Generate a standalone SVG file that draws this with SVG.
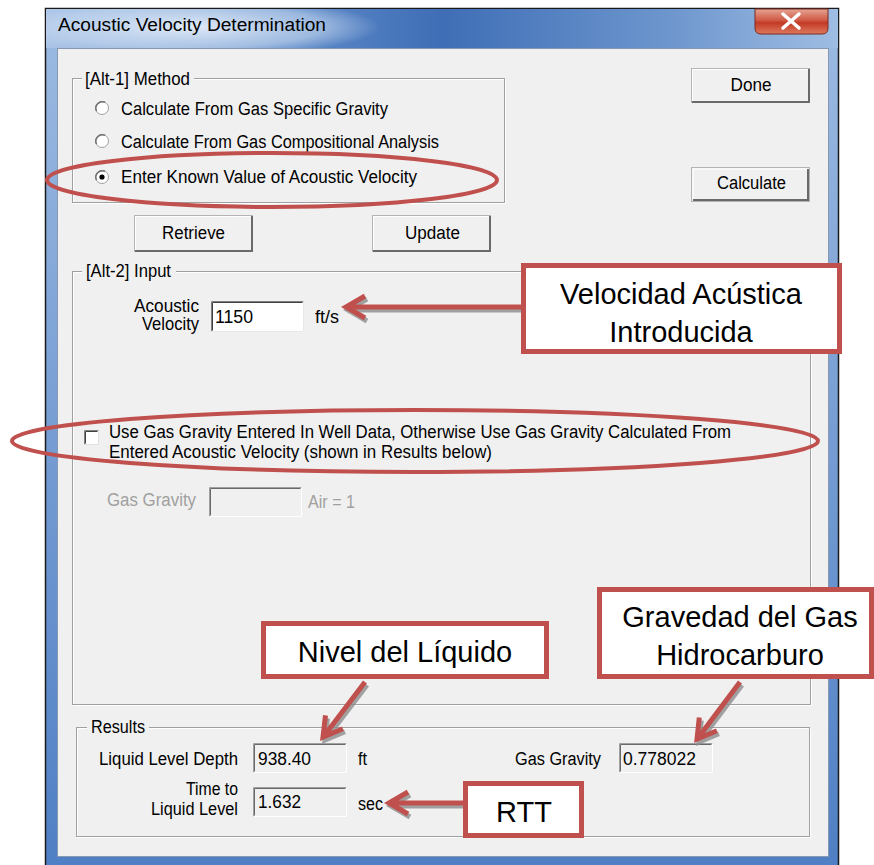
<svg xmlns="http://www.w3.org/2000/svg" width="874" height="865" viewBox="0 0 874 865">
<style>
.ui{font-family:"Liberation Sans",Arial,sans-serif;font-size:18px;fill:#000}
.dis{fill:#a0a0a0}
.co{font-family:"Liberation Sans",Arial,sans-serif;font-size:29px;fill:#000;text-anchor:middle}
.grp{fill:none;stroke:#a0a0a0;stroke-width:1}
.grpw{fill:none;stroke:#ffffff;stroke-width:1}
.btn{fill:#f0f0f0;stroke:#b4b4b4;stroke-width:1}
.bsh{fill:none;stroke:#6a6a6a;stroke-width:2}
.bhi{fill:none;stroke:#ffffff;stroke-width:1}
.hl{fill:none;stroke:#c0504d;stroke-width:4}
.cbox{fill:#ffffff;stroke:#c0504d;stroke-width:5}
.arr{fill:none;stroke:#c0504d;stroke-width:5;stroke-linejoin:miter}
.arrs{fill:none;stroke:#8c8c8c;stroke-width:5;stroke-linejoin:miter;opacity:0.8}
</style>
<defs>
<linearGradient id="tb" x1="0" y1="0" x2="1" y2="0">
<stop offset="0" stop-color="#a9c3e6"/>
<stop offset="0.3" stop-color="#5f8bc9"/>
<stop offset="0.5" stop-color="#3f6eb6"/>
<stop offset="0.78" stop-color="#6c95cd"/>
<stop offset="1" stop-color="#9fbde3"/>
</linearGradient>
<radialGradient id="glow" cx="0.5" cy="0.5" r="0.5">
<stop offset="0" stop-color="#e6eef9" stop-opacity="0.95"/>
<stop offset="0.7" stop-color="#c8daf0" stop-opacity="0.6"/>
<stop offset="1" stop-color="#c8daf0" stop-opacity="0"/>
</radialGradient>
<linearGradient id="side" x1="0" y1="0" x2="0" y2="1">
<stop offset="0" stop-color="#9dbbe2"/>
<stop offset="1" stop-color="#4f7fc4"/>
</linearGradient>
<linearGradient id="close" x1="0" y1="0" x2="0" y2="1">
<stop offset="0" stop-color="#e5a494"/>
<stop offset="0.45" stop-color="#cf5a45"/>
<stop offset="0.55" stop-color="#c23a25"/>
<stop offset="1" stop-color="#de7a5f"/>
</linearGradient>
<clipPath id="tbclip"><rect x="46" y="9" width="792" height="39"/></clipPath>
</defs>
<rect width="874" height="865" fill="#ffffff"/>
<g id="window">
<rect x="45.5" y="8.5" width="793" height="860" fill="url(#side)" stroke="#1a1a1a" stroke-width="1.5"/>
<rect x="46" y="9" width="792" height="39" fill="url(#tb)"/>
<ellipse cx="190" cy="27" rx="190" ry="30" fill="url(#glow)" clip-path="url(#tbclip)"/>
<text class="ui" x="58" y="31" textLength="268" lengthAdjust="spacingAndGlyphs">Acoustic Velocity Determination</text>
<path d="M755,9 H828 V28 Q828,34 822,34 H761 Q755,34 755,28 Z" fill="url(#close)" stroke="#7a2a20" stroke-width="1"/>
<path d="M783,14 L799,28 M799,14 L783,28" stroke="#ffffff" stroke-width="3.5" stroke-linecap="round"/>
<rect x="57.5" y="48.5" width="771" height="808" fill="#f0f0f0" stroke="#8898b0" stroke-width="1"/>
</g>
<g id="method-group">
<rect class="grpw" x="73.5" y="79.5" width="432" height="124"/>
<rect class="grp" x="72.5" y="78.5" width="432" height="124"/>
<rect x="82" y="70" width="112" height="14" fill="#f0f0f0"/>
<text class="ui" x="85" y="85" textLength="105" lengthAdjust="spacingAndGlyphs">[Alt-1] Method</text>
<g id="radio1"><circle cx="102" cy="108" r="6.5" fill="#fff" stroke="#a0a0a0"/><path d="M96.5,111 A6.5,6.5 0 0 1 105,102.3" fill="none" stroke="#707070" stroke-width="1.5"/>
<text class="ui" x="121" y="115" textLength="267" lengthAdjust="spacingAndGlyphs">Calculate From Gas Specific Gravity</text></g>
<g id="radio2"><circle cx="102" cy="141" r="6.5" fill="#fff" stroke="#a0a0a0"/><path d="M96.5,144 A6.5,6.5 0 0 1 105,135.3" fill="none" stroke="#707070" stroke-width="1.5"/>
<text class="ui" x="121" y="148" textLength="318" lengthAdjust="spacingAndGlyphs">Calculate From Gas Compositional Analysis</text></g>
<g id="radio3"><circle cx="102" cy="177" r="6.5" fill="#fff" stroke="#a0a0a0"/><path d="M96.5,180 A6.5,6.5 0 0 1 105,171.3" fill="none" stroke="#707070" stroke-width="1.5"/><circle cx="102" cy="177" r="2.6" fill="#000"/>
<text class="ui" x="121" y="183" textLength="296" lengthAdjust="spacingAndGlyphs">Enter Known Value of Acoustic Velocity</text></g>
</g>
<g id="btn-done">
<rect class="btn" x="691.5" y="68.5" width="118" height="34"/>
<path class="bhi" d="M692.5,101 V69.5 H808"/>
<path class="bsh" d="M692,102 H809 V69"/>
<text class="ui" x="751" y="91" text-anchor="middle" textLength="41" lengthAdjust="spacingAndGlyphs">Done</text>
</g>
<g id="btn-calculate">
<rect class="btn" x="691.5" y="167.5" width="118" height="34" stroke="#505050"/>
<path class="bhi" d="M693,199 V169 H807"/>
<path class="bsh" d="M693,200 H808 V169"/>
<text class="ui" x="751.5" y="189" text-anchor="middle" textLength="69" lengthAdjust="spacingAndGlyphs">Calculate</text>
</g>
<g id="btn-retrieve">
<rect class="btn" x="134.5" y="215.5" width="118" height="36"/>
<path class="bhi" d="M135.5,250 V216.5 H251"/>
<path class="bsh" d="M135,251 H252 V216"/>
<text class="ui" x="193.5" y="239" text-anchor="middle" textLength="63" lengthAdjust="spacingAndGlyphs">Retrieve</text>
</g>
<g id="btn-update">
<rect class="btn" x="372.5" y="215.5" width="118" height="36"/>
<path class="bhi" d="M373.5,250 V216.5 H489"/>
<path class="bsh" d="M373,251 H490 V216"/>
<text class="ui" x="432.5" y="239" text-anchor="middle" textLength="55" lengthAdjust="spacingAndGlyphs">Update</text>
</g>
<g id="input-group">
<rect class="grpw" x="73.5" y="272.5" width="738" height="433"/>
<rect class="grp" x="72.5" y="271.5" width="738" height="433"/>
<rect x="82" y="263" width="94" height="14" fill="#f0f0f0"/>
<text class="ui" x="86" y="277" textLength="85" lengthAdjust="spacingAndGlyphs">[Alt-2] Input</text>
<text class="ui" x="199" y="312" text-anchor="end" textLength="65" lengthAdjust="spacingAndGlyphs">Acoustic</text>
<text class="ui" x="199" y="330" text-anchor="end" textLength="57" lengthAdjust="spacingAndGlyphs">Velocity</text>
<rect x="211" y="301" width="93" height="31" fill="#ffffff"/>
<path d="M211.5,331.5 V301.5 H303.5" fill="none" stroke="#808080"/>
<path d="M212.5,330.5 V302.5 H302.5" fill="none" stroke="#404040"/>
<path d="M211.5,331.5 H303.5 V301.5" fill="none" stroke="#e8e8e8"/>
<text class="ui" x="215" y="323" textLength="38" lengthAdjust="spacingAndGlyphs">1150</text>
<text class="ui" x="315" y="323" textLength="24" lengthAdjust="spacingAndGlyphs">ft/s</text>
<rect x="84" y="430" width="15" height="15" fill="#ffffff"/>
<path d="M84.5,444.5 V430.5 H98.5" fill="none" stroke="#808080"/>
<path d="M85.5,443.5 V431.5 H97.5" fill="none" stroke="#404040"/>
<path d="M84.5,444.5 H98.5 V430.5" fill="none" stroke="#e0e0e0"/>
<text class="ui" x="109" y="438" textLength="622" lengthAdjust="spacingAndGlyphs">Use Gas Gravity Entered In Well Data, Otherwise Use Gas Gravity Calculated From</text>
<text class="ui" x="109" y="458" textLength="383" lengthAdjust="spacingAndGlyphs">Entered Acoustic Velocity (shown in Results below)</text>
<text class="ui dis" x="107" y="506" textLength="89" lengthAdjust="spacingAndGlyphs">Gas Gravity</text>
<rect x="209" y="487" width="93" height="30" fill="#f0f0f0"/>
<path d="M209.5,516.5 V487.5 H301.5" fill="none" stroke="#a0a0a0"/>
<path d="M210.5,515.5 V488.5 H300.5" fill="none" stroke="#696969"/>
<path d="M209.5,516.5 H301.5 V487.5" fill="none" stroke="#ffffff"/>
<text class="ui dis" x="308" y="508" textLength="47" lengthAdjust="spacingAndGlyphs">Air = 1</text>
</g>
<g id="results-group">
<rect class="grpw" x="77.5" y="728.5" width="733" height="109"/>
<rect class="grp" x="76.5" y="727.5" width="733" height="109"/>
<rect x="87" y="719" width="62" height="14" fill="#f0f0f0"/>
<text class="ui" x="91" y="733" textLength="54" lengthAdjust="spacingAndGlyphs">Results</text>
<text class="ui" x="238" y="765" text-anchor="end" textLength="139" lengthAdjust="spacingAndGlyphs">Liquid Level Depth</text>
<rect x="253" y="743" width="94" height="30" fill="#f0f0f0"/>
<path d="M253.5,772.5 V743.5 H346.5" fill="none" stroke="#a0a0a0"/>
<path d="M254.5,771.5 V744.5 H345.5" fill="none" stroke="#696969"/>
<path d="M253.5,772.5 H346.5 V743.5" fill="none" stroke="#ffffff"/>
<text class="ui" x="258" y="765" textLength="53" lengthAdjust="spacingAndGlyphs">938.40</text>
<text class="ui" x="358" y="765" textLength="9" lengthAdjust="spacingAndGlyphs">ft</text>
<text class="ui" x="601" y="765" text-anchor="end" textLength="86" lengthAdjust="spacingAndGlyphs">Gas Gravity</text>
<rect x="619" y="743" width="94" height="30" fill="#f0f0f0"/>
<path d="M619.5,772.5 V743.5 H712.5" fill="none" stroke="#a0a0a0"/>
<path d="M620.5,771.5 V744.5 H711.5" fill="none" stroke="#696969"/>
<path d="M619.5,772.5 H712.5 V743.5" fill="none" stroke="#ffffff"/>
<text class="ui" x="623" y="765" textLength="73" lengthAdjust="spacingAndGlyphs">0.778022</text>
<text class="ui" x="238" y="795" text-anchor="end" textLength="52" lengthAdjust="spacingAndGlyphs">Time to</text>
<text class="ui" x="238" y="815" text-anchor="end" textLength="87" lengthAdjust="spacingAndGlyphs">Liquid Level</text>
<rect x="253" y="787" width="94" height="30" fill="#f0f0f0"/>
<path d="M253.5,816.5 V787.5 H346.5" fill="none" stroke="#a0a0a0"/>
<path d="M254.5,815.5 V788.5 H345.5" fill="none" stroke="#696969"/>
<path d="M253.5,816.5 H346.5 V787.5" fill="none" stroke="#ffffff"/>
<text class="ui" x="258" y="808" textLength="43" lengthAdjust="spacingAndGlyphs">1.632</text>
<text class="ui" x="358" y="810" textLength="25" lengthAdjust="spacingAndGlyphs">sec</text>
</g>
<g id="highlights">
<ellipse id="hl-method" class="hl" cx="272" cy="180" rx="225" ry="27"/>
<ellipse id="hl-checkbox" class="hl" cx="415" cy="441" rx="403" ry="31"/>
</g>
<g id="connectors">
<g transform="translate(2,3)">
<path class="arrs" d="M521,307 H349 M365,296 L346,307 L365,318"/>
<path class="arrs" d="M365,682 L324,736 M342.9,728.8 L323,737 L325.5,715.4"/>
<path class="arrs" d="M740,682 L698,738 M716.9,730.7 L697,739 L699.3,717.5"/>
<path class="arrs" d="M463,803 H392 M408,792 L389,803 L408,814"/>
</g>
<path class="arr" d="M521,307 H349 M365,296 L346,307 L365,318"/>
<path class="arr" d="M365,682 L324,736 M342.9,728.8 L323,737 L325.5,715.4"/>
<path class="arr" d="M740,682 L698,738 M716.9,730.7 L697,739 L699.3,717.5"/>
<path class="arr" d="M463,803 H392 M408,792 L389,803 L408,814"/>
</g>
<g id="callout-velocidad">
<rect class="cbox" x="523.5" y="265.5" width="316" height="86"/>
<text class="co" x="681" y="304">Velocidad Acústica</text>
<text class="co" x="681" y="342">Introducida</text>
</g>
<g id="callout-nivel">
<rect class="cbox" x="263.5" y="623.5" width="283" height="53"/>
<text class="co" x="405" y="662">Nivel del Líquido</text>
</g>
<g id="callout-gravedad">
<rect class="cbox" x="599.5" y="589.5" width="272" height="87"/>
<text class="co" x="740" y="627">Gravedad del Gas</text>
<text class="co" x="740" y="665">Hidrocarburo</text>
</g>
<g id="callout-rtt">
<rect class="cbox" x="465.5" y="783.5" width="116" height="52"/>
<text class="co" x="524" y="822">RTT</text>
</g>
</svg>
